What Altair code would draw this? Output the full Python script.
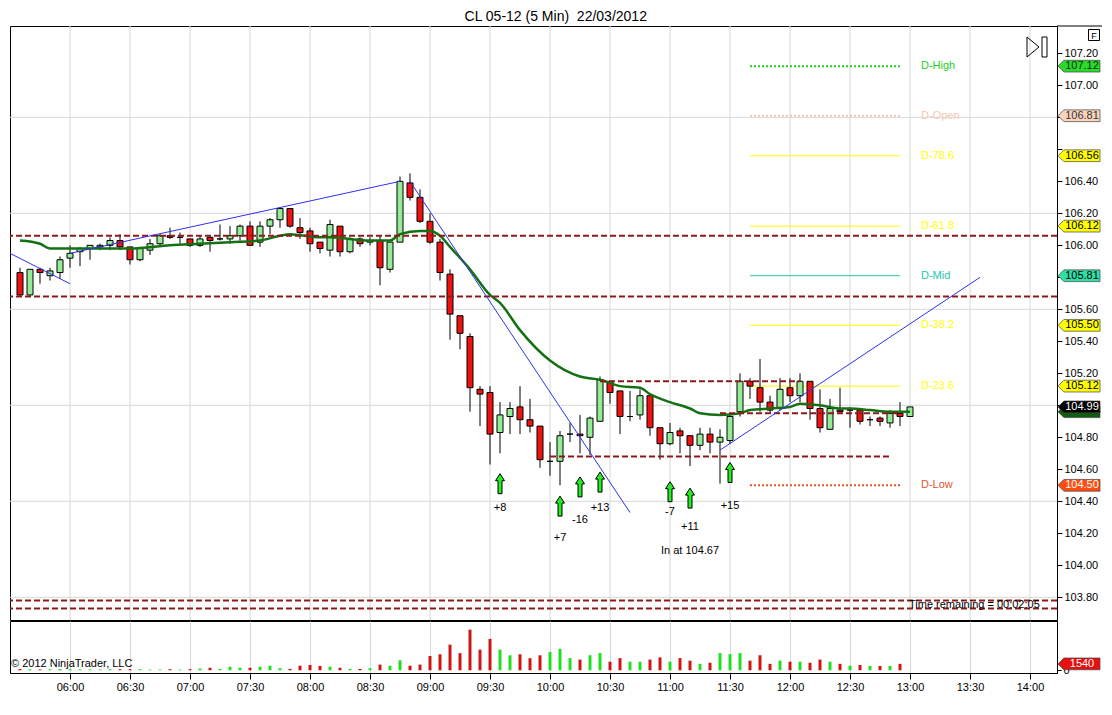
import altair as alt
import pandas as pd

FONT = "Liberation Sans"

# ---------------- data ----------------
times = [
    "05:35", "05:40", "05:45", "05:50", "05:55",
    "06:00", "06:05", "06:10", "06:15", "06:20", "06:25", "06:30", "06:35", "06:40", "06:45", "06:50", "06:55",
    "07:00", "07:05", "07:10", "07:15", "07:20", "07:25", "07:30", "07:35", "07:40", "07:45", "07:50", "07:55",
    "08:00", "08:05", "08:10", "08:15", "08:20", "08:25", "08:30", "08:35", "08:40", "08:45", "08:50", "08:55",
    "09:00", "09:05", "09:10", "09:15", "09:20", "09:25", "09:30", "09:35", "09:40", "09:45", "09:50", "09:55",
    "10:00", "10:05", "10:10", "10:15", "10:20", "10:25", "10:30", "10:35", "10:40", "10:45", "10:50", "10:55",
    "11:00", "11:05", "11:10", "11:15", "11:20", "11:25", "11:30", "11:35", "11:40", "11:45", "11:50", "11:55",
    "12:00", "12:05", "12:10", "12:15", "12:20", "12:25", "12:30", "12:35", "12:40", "12:45", "12:50", "12:55",
    "13:00",
]
opens = [
    105.83, 105.69, 105.85, 105.81, 105.83,
    105.92, 105.96, 105.98, 105.99, 106.00, 106.03, 105.99, 105.91, 105.97, 106.01, 106.06, 106.05,
    106.04, 106.00, 106.05, 106.04, 106.04, 106.06, 106.12, 106.02, 106.12, 106.16, 106.23, 106.11,
    106.09, 106.02, 105.97, 106.12, 105.96, 106.04, 106.02, 106.03, 105.85, 106.02, 106.39, 106.30,
    106.15, 106.02, 105.82, 105.56, 105.43, 105.10, 105.08, 104.83, 104.93, 104.99, 104.91, 104.87,
    104.65, 104.65, 104.82, 104.82, 104.80, 104.90, 105.15, 105.09, 104.93, 104.94, 105.06, 104.86,
    104.76, 104.84, 104.81, 104.75, 104.82, 104.77, 104.78, 104.96, 105.15, 105.11, 105.02, 104.98,
    105.11, 105.06, 105.15, 104.98, 104.85, 104.97, 104.97, 104.97, 104.91, 104.92, 104.89, 104.95,
    104.93,
]
highs = [
    105.86, 105.85, 105.86, 105.86, 105.93,
    106.00, 105.99, 106.00, 106.01, 106.05, 106.07, 105.99, 105.99, 106.04, 106.07, 106.11, 106.08,
    106.04, 106.06, 106.06, 106.13, 106.12, 106.13, 106.15, 106.15, 106.17, 106.24, 106.23, 106.17,
    106.11, 106.02, 106.16, 106.12, 106.05, 106.05, 106.05, 106.06, 106.02, 106.43, 106.45, 106.35,
    106.20, 106.04, 105.85, 105.56, 105.45, 105.12, 105.12, 105.02, 105.02, 105.12, 105.04, 104.87,
    104.77, 104.84, 104.89, 104.94, 104.93, 105.18, 105.15, 105.09, 105.09, 105.10, 105.06, 104.86,
    104.89, 104.86, 104.81, 104.86, 104.86, 104.85, 104.95, 105.20, 105.17, 105.29, 105.06, 105.17,
    105.17, 105.20, 105.15, 105.10, 105.04, 105.11, 104.99, 104.97, 104.93, 104.93, 104.97, 105.02,
    104.99,
]
lows = [
    105.68, 105.68, 105.76, 105.78, 105.79,
    105.86, 105.87, 105.91, 105.97, 105.97, 105.97, 105.88, 105.90, 105.94, 106.00, 106.04, 106.01,
    105.99, 105.99, 105.96, 106.03, 106.01, 106.03, 106.00, 105.99, 106.07, 106.11, 106.11, 106.04,
    105.96, 105.95, 105.93, 105.93, 105.95, 105.99, 106.00, 105.75, 105.83, 106.02, 106.28, 106.14,
    106.01, 105.78, 105.41, 105.35, 104.96, 104.87, 104.63, 104.70, 104.82, 104.82, 104.83, 104.61,
    104.56, 104.50, 104.77, 104.70, 104.69, 104.90, 105.01, 104.82, 104.90, 104.91, 104.81, 104.66,
    104.75, 104.70, 104.62, 104.72, 104.70, 104.51, 104.76, 104.93, 105.04, 104.96, 104.95, 104.97,
    105.02, 105.02, 104.91, 104.83, 104.85, 104.95, 104.86, 104.88, 104.87, 104.87, 104.86, 104.87,
    104.93,
]
closes = [
    105.69, 105.85, 105.83, 105.84, 105.91,
    105.95, 105.98, 106.00, 106.00, 106.03, 105.99, 105.91, 105.98, 106.01, 106.06, 106.05, 106.05,
    106.00, 106.04, 106.03, 106.04, 106.06, 106.12, 106.00, 106.12, 106.16, 106.23, 106.12, 106.08,
    106.01, 105.98, 106.13, 105.96, 106.04, 106.01, 106.03, 105.86, 106.02, 106.40, 106.30, 106.15,
    106.02, 105.83, 105.57, 105.45, 105.11, 105.07, 104.82, 104.94, 104.98, 104.91, 104.87, 104.66,
    104.65, 104.81, 104.82, 104.81, 104.92, 105.16, 105.08, 104.93, 104.93, 105.06, 104.86, 104.76,
    104.83, 104.81, 104.75, 104.82, 104.77, 104.80, 104.93, 105.15, 105.12, 105.02, 104.97, 105.10,
    105.06, 105.15, 104.98, 104.86, 104.98, 104.96, 104.97, 104.90, 104.91, 104.90, 104.95, 104.93,
    104.99,
]
volumes = [
    300, 250, 200, 250, 300,
    280, 220, 200, 180, 240, 260, 260, 260, 170, 170, 260, 170,
    260, 430, 600, 340, 860, 600, 600, 860, 1110, 510, 340, 1110,
    1280, 1030, 860, 600, 340, 340, 510, 1370, 1110, 2400, 1110, 1370,
    3420, 3850, 6160, 4110, 9760, 4960, 7530, 4960, 3600, 3850, 2910, 3600,
    4370, 5140, 2920, 2580, 3610, 4130, 2060, 2920, 2060, 2060, 2580, 3100,
    2060, 2920, 2320, 1550, 1810, 4130, 3870, 4130, 2320, 3610, 1550, 2320,
    2060, 2060, 1810, 2580, 2060, 1550, 1120, 1290, 1030, 1030, 1030, 1540,
    0,
]

ma_times = ["05:35", "05:45", "05:50", "06:00", "06:15", "06:30", "06:50", "07:05", "07:20", "07:35",
            "07:45", "07:50", "08:05", "08:10", "08:30", "08:40", "08:45", "08:55", "09:00", "09:05",
            "09:10", "09:20", "09:30", "09:35", "09:45", "10:00", "10:15", "10:25", "10:35", "10:45",
            "10:50", "11:00", "11:10", "11:15", "11:25", "11:35", "11:40", "11:50", "12:00", "12:05",
            "12:15", "12:25", "12:30", "12:40", "12:50", "13:00"]
ma_vals = [106.03, 106.01, 105.98, 105.98, 105.98, 105.98, 106.00, 106.01, 106.02, 106.03,
           106.06, 106.07, 106.05, 106.05, 106.03, 106.03, 106.07, 106.09, 106.09, 106.06,
           105.99, 105.85, 105.69, 105.64, 105.47, 105.28, 105.18, 105.16, 105.12, 105.11,
           105.07, 105.02, 104.98, 104.95, 104.94, 104.95, 104.97, 104.98, 104.99, 105.01,
           105.00, 104.98, 104.98, 104.97, 104.96, 104.96]

fib_names = ["D-High", "D-Open", "D-78.6", "D-61.8", "D-Mid", "D-38.2", "D-23.6", "D-Low"]
fib_prices = [107.12, 106.81, 106.56, 106.12, 105.81, 105.50, 105.12, 104.50]
fib_start = "11:40"
fib_end = "12:55"
fib_label_at = "13:05"

full_levels = [106.06, 105.68, 103.78, 103.73]
part_start = ["10:25", "10:00", "11:25"]
part_end = ["12:05", "12:50", "12:55"]
part_price = [105.15, 104.68, 104.95]

tl_t1 = ["05:30", "06:00", "08:50", "11:25"]
tl_p1 = [105.95, 105.95, 106.40, 104.72]
tl_t2 = ["06:00", "08:45", "10:40", "13:35"]
tl_p2 = [105.76, 106.40, 104.33, 105.80]

arr_times = ["09:35", "10:05", "10:15", "10:25", "11:00", "11:10", "11:30"]
arr_prices = [104.51, 104.37, 104.49, 104.52, 104.46, 104.42, 104.58]
arr_labels = ["+8", "+7", "-16", "+13", "-7", "+11", "+15"]
arr_label_prices = [104.36, 104.17, 104.28, 104.36, 104.33, 104.24, 104.37]

note_text = "In at 104.67"
note_time = "11:10"
note_price = 104.09

timer_text = "Time remaining = 00:02:05"
timer_time = "13:00"
timer_price = 103.75

tag_prices = [107.12, 106.81, 106.56, 106.12, 105.81, 105.50, 105.12, 104.96, 104.99, 104.50]
tag_texts = ["107.12", "106.81", "106.56", "106.12", "105.81", "105.50", "105.12", "", "104.99", "104.50"]
vol_tag_value = 1540

price_ticks = [103.80, 104.00, 104.20, 104.40, 104.60, 104.80, 105.00, 105.20, 105.40, 105.60,
               105.80, 106.00, 106.20, 106.40, 106.60, 106.80, 107.00, 107.20]
hidden_tick_labels = [106.60, 105.00]   # covered by the price tags
price_grid = [103.80, 104.40, 105.00, 105.60, 106.20, 106.80]
time_ticks = ["06:00", "06:30", "07:00", "07:30", "08:00", "08:30", "09:00", "09:30", "10:00",
              "10:30", "11:00", "11:30", "12:00", "12:30", "13:00", "13:30", "14:00"]

# ---------------- styles ----------------
UP_BODY, DN_BODY = "#96EC96", "#EE1212"
UP_VOL, DN_VOL = "#22DD22", "#CC1616"
GRID = "#D8D8D8"
DASH = "#8E1B1B"
BLUE = "#3030EE"
MA_COL = "#137013"
fib_colors = ["#22D022", "#F3C9AE", "#FFFF00", "#FFFF00", "#22C8AA", "#FFFF00", "#FFFF00", "#E2552E"]
fib_dotted = [True, True, False, False, False, False, False, True]
tag_bg = ["#2BD92B", "#F9D3BC", "#FFFF00", "#FFFF00", "#2EDFA6", "#FFFF00", "#FFFF00", "#0E5C0E", "#000000", "#FF4D12"]
tag_fg = ["#063306", "#333333", "#000000", "#000000", "#000000", "#000000", "#000000", "#FFFFFF", "#FFFFFF", "#FFFFFF"]

TAG = "M-1,0L-0.72,-0.28L1,-0.28L1,0.28L-0.72,0.28Z"
ARROW = "M0,-1L0.45,-0.3L0.2,-0.3L0.2,1L-0.2,1L-0.2,-0.3L-0.45,-0.3Z"
ENDBTN = "M-1,-1L0.2,0L-1,1Z M0.5,-1L1,-1L1,1L0.5,1Z"


def tmin(s):
    h, m = s.split(":")
    return int(h) * 60 + int(m)


W, H_MAIN, H_VOL = 1047, 594, 52
X_DOM = [330, 853.5]
Y_DOM = [103.658, 107.371]
V_DOM = [-650, 11830]

bars = pd.DataFrame({"t": [tmin(s) for s in times], "o": opens, "h": highs,
                     "l": lows, "c": closes, "v": volumes})
up = bars["c"] >= bars["o"]
bars["body"] = [UP_BODY if u else DN_BODY for u in up]
bars["vcol"] = [UP_VOL if u else DN_VOL for u in up]

tick_minutes = [tmin(s) for s in time_ticks]
label_expr = "pad(floor(datum.value/60),2,'0','left') + ':' + pad(datum.value%60,2,'0','left')"
hide = " || ".join(f"abs(datum.value - {v}) < 0.001" for v in hidden_tick_labels)
price_label_expr = f"({hide}) ? '' : format(datum.value, '.2f')"

x_scale = alt.Scale(domain=X_DOM, nice=False, zero=False, padding=0)
y_scale = alt.Scale(domain=Y_DOM, nice=False, zero=False, padding=0)
v_scale = alt.Scale(domain=V_DOM, nice=False, padding=0)

y_axis_main = alt.Axis(orient="right", values=price_ticks, labelExpr=price_label_expr, grid=False,
                       tickSize=5, tickColor="black", domainColor="black", labelPadding=2,
                       labelFontSize=11, labelColor="black", labelOverlap=False, title=None)


def X(f):
    return alt.X(f, type="quantitative", scale=x_scale, axis=None)


def Y(f):
    return alt.Y(f, type="quantitative", scale=y_scale, axis=y_axis_main)


one = alt.Data(values=[{"k": 1}])

hgrid = alt.Chart(pd.DataFrame({"p": price_grid})).mark_rule(
    color=GRID, strokeWidth=1).encode(y=Y("p"))
vgrid = alt.Chart(pd.DataFrame({"t": tick_minutes})).mark_rule(
    color=GRID, strokeWidth=1).encode(x=X("t"))

fib = pd.DataFrame({"name": fib_names, "p": fib_prices, "col": fib_colors, "dot": fib_dotted,
                    "t1": tmin(fib_start), "t2": tmin(fib_end), "tl": tmin(fib_label_at)})
fib_dot = alt.Chart(fib[fib["dot"]]).mark_rule(strokeWidth=2, strokeDash=[2, 2]).encode(
    x=X("t1"), x2="t2", y=Y("p"), color=alt.Color("col:N", scale=None))
fib_sol = alt.Chart(fib[~fib["dot"]]).mark_rule(strokeWidth=1).encode(
    x=X("t1"), x2="t2", y=Y("p"), color=alt.Color("col:N", scale=None))
fib_txt = alt.Chart(fib).mark_text(align="left", fontSize=11, dx=1).encode(
    x=X("tl"), y=Y("p"), text="name:N", color=alt.Color("col:N", scale=None))

wicks = alt.Chart(bars).mark_rule(color="black", strokeWidth=1).encode(
    x=X("t"), y=Y("l"), y2="h")
bodies = alt.Chart(bars).mark_bar(width=6, stroke="black", strokeWidth=1).encode(
    x=X("t"), y=Y("o"), y2="c", fill=alt.Fill("body:N", scale=None))

ma = alt.Chart(pd.DataFrame({"t": [tmin(s) for s in ma_times], "p": ma_vals})).mark_line(
    color=MA_COL, strokeWidth=2.5, interpolate="monotone").encode(x=X("t"), y=Y("p"))

full_dash = alt.Chart(pd.DataFrame({"p": full_levels})).mark_rule(
    color=DASH, strokeWidth=2, strokeDash=[6, 3]).encode(y=Y("p"))
part_dash = alt.Chart(pd.DataFrame({"t1": [tmin(s) for s in part_start],
                                    "t2": [tmin(s) for s in part_end],
                                    "p": part_price})).mark_rule(
    color=DASH, strokeWidth=2, strokeDash=[6, 3]).encode(x=X("t1"), x2="t2", y=Y("p"))

trend = alt.Chart(pd.DataFrame({"t1": [tmin(s) for s in tl_t1], "p1": tl_p1,
                                "t2": [tmin(s) for s in tl_t2], "p2": tl_p2})).mark_rule(
    color=BLUE, strokeWidth=1).encode(x=X("t1"), x2="t2", y=Y("p1"), y2="p2")

arr_df = pd.DataFrame({"t": [tmin(s) for s in arr_times], "p": arr_prices,
                       "lbl": arr_labels, "lp": arr_label_prices})
arrows = alt.Chart(arr_df).mark_point(shape=ARROW, size=400, filled=True, fill="#22EE22",
                                      stroke="black", strokeWidth=1, opacity=1).encode(
    x=X("t"), y=Y("p"))
arr_txt = alt.Chart(arr_df).mark_text(fontSize=11, color="black").encode(
    x=X("t"), y=Y("lp"), text="lbl:N")

note = alt.Chart(pd.DataFrame({"t": [tmin(note_time)], "p": [note_price], "s": [note_text]})).mark_text(
    fontSize=11, color="black").encode(x=X("t"), y=Y("p"), text="s:N")
timer = alt.Chart(pd.DataFrame({"t": [tmin(timer_time)], "p": [timer_price], "s": [timer_text]})).mark_text(
    fontSize=11, color="black", align="left", dx=-1).encode(x=X("t"), y=Y("p"), text="s:N")

tags = pd.DataFrame({"p": tag_prices, "txt": tag_texts, "bg": tag_bg, "fg": tag_fg})
tag_shapes = alt.Chart(tags).mark_point(shape=TAG, size=1764, filled=True, stroke="#444444",
                                        strokeWidth=0.7, opacity=1).encode(
    x=alt.value(1069), y=Y("p"), fill=alt.Fill("bg:N", scale=None))
tag_txt = alt.Chart(tags).mark_text(fontSize=11, align="center").encode(
    x=alt.value(1072), y=Y("p"), text="txt:N", color=alt.Color("fg:N", scale=None))

fbox = alt.Chart(one).mark_point(shape="square", size=121, filled=False, stroke="black",
                                 strokeWidth=1, opacity=1).encode(x=alt.value(1084), y=alt.value(9))
ftxt = alt.Chart(one).mark_text(text="F", fontSize=9, color="black").encode(
    x=alt.value(1084), y=alt.value(9.5))
endbtn = alt.Chart(one).mark_point(shape=ENDBTN, size=400, filled=False, stroke="black",
                                   strokeWidth=1, opacity=1).encode(x=alt.value(1027), y=alt.value(21))
topline = alt.Chart(one).mark_rule(color="black", strokeWidth=1).encode(
    x=alt.value(W), x2=alt.value(1092), y=alt.value(0))

main = alt.layer(hgrid, vgrid, fib_dot, fib_sol, fib_txt, wicks, bodies, ma, full_dash, part_dash,
                 trend, arrows, arr_txt, note, timer, tag_shapes, tag_txt,
                 fbox, ftxt, endbtn, topline).properties(width=W, height=H_MAIN)

# ---------------- volume panel ----------------
vx_axis = alt.Axis(values=tick_minutes, labelExpr=label_expr, grid=True, gridColor=GRID,
                   tickSize=6, tickColor="black", domainColor="black", labelFontSize=11,
                   labelPadding=2, labelFlush=False, labelOverlap=False, labelColor="black",
                   title=None)
vy_axis = alt.Axis(orient="right", values=[0], tickSize=4, tickColor="black",
                   domainColor="black", labelFontSize=11, labelPadding=2, labelColor="black",
                   grid=False, title=None)

vol_bars = alt.Chart(bars).mark_bar(width=3).encode(
    x=alt.X("t:Q", scale=x_scale, axis=vx_axis),
    y=alt.Y("v:Q", scale=v_scale, axis=vy_axis),
    y2=alt.datum(0),
    fill=alt.Fill("vcol:N", scale=None))
vtag_df = pd.DataFrame({"v": [vol_tag_value], "s": [str(vol_tag_value)]})
vol_tag = alt.Chart(vtag_df).mark_point(shape=TAG, size=1764, filled=True, fill="#E81010",
                                        stroke="#444444", strokeWidth=0.7, opacity=1).encode(
    x=alt.value(1069), y=alt.Y("v:Q", scale=v_scale, axis=vy_axis))
vol_tag_txt = alt.Chart(vtag_df).mark_text(fontSize=11, color="white").encode(
    x=alt.value(1072), y=alt.Y("v:Q", scale=v_scale, axis=vy_axis), text="s:N")
copyright_txt = alt.Chart(one).mark_text(text="\u00a9 2012 NinjaTrader, LLC", align="left",
                                         fontSize=11, color="black").encode(
    x=alt.value(1), y=alt.value(43))

vol = alt.layer(vol_bars, copyright_txt, vol_tag, vol_tag_txt).properties(width=W, height=H_VOL)

chart = alt.vconcat(main, vol, spacing=-1).properties(
    title=alt.TitleParams("CL 05-12 (5 Min)\u00a0 22/03/2012", fontSize=14, font=FONT,
                          fontWeight="normal", anchor="middle", offset=1, color="black"),
    padding={"top": 2, "left": 0, "right": 0, "bottom": 0},
).configure_view(stroke="black", strokeWidth=1).configure_axis(
    labelFont=FONT).configure_text(font=FONT)

chart.save("out.html", embed_options={"renderer": "svg", "actions": False})
